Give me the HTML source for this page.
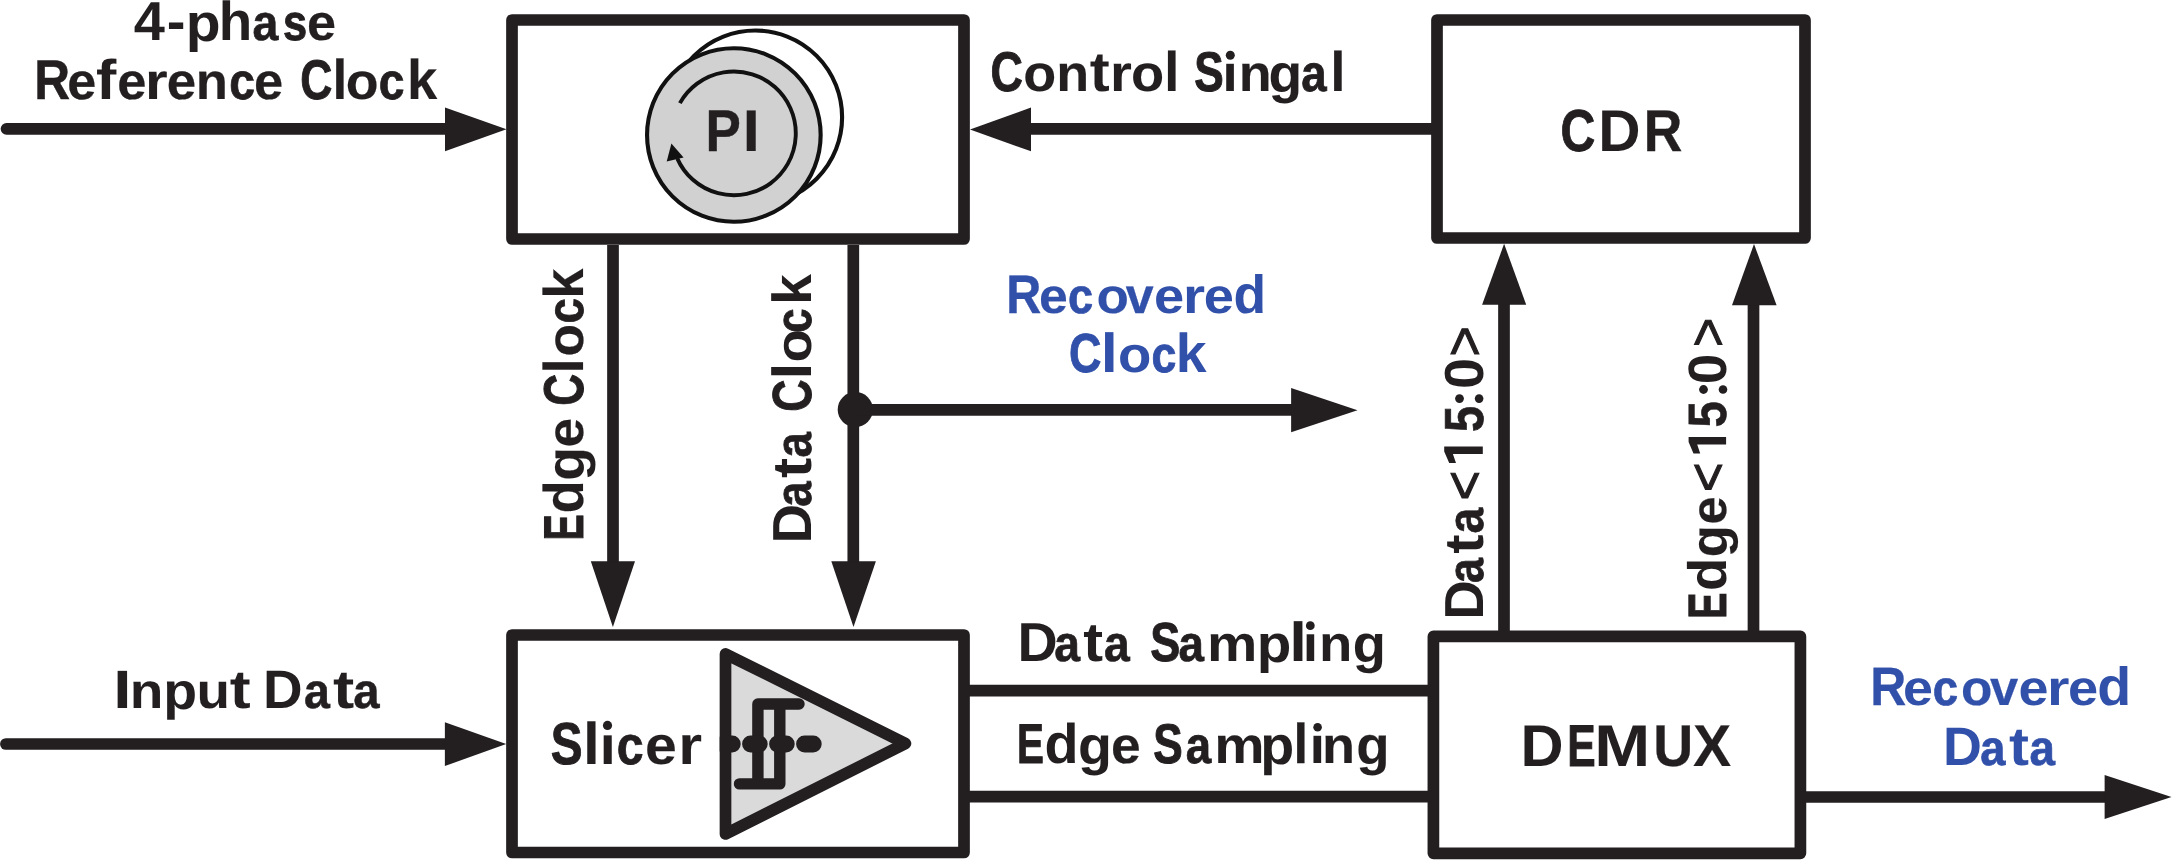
<!DOCTYPE html>
<html><head><meta charset="utf-8"><style>
html,body{margin:0;padding:0;background:#fff;width:2172px;height:861px;overflow:hidden}
svg{display:block}
text{text-rendering:geometricPrecision}
svg{will-change:transform}
text{font-family:"Liberation Sans",sans-serif;font-weight:bold;white-space:pre}
</style></head><body>
<svg width="2172" height="861" viewBox="0 0 2172 861">
<rect width="2172" height="861" fill="#fff"/>
<circle cx="755.3" cy="117.3" r="86.8" fill="#fff" stroke="#111" stroke-width="4.1"/>
<circle cx="733.85" cy="135" r="86.8" fill="#d1d1d1" stroke="#111" stroke-width="4.1"/>
<path d="M679.9 103.1 A61.9 61.9 0 1 1 677.35 158.6" fill="none" stroke="#111" stroke-width="3.9"/>
<polygon points="671.4,143.5 666.7,161.5 683.6,157.4" fill="#111"/>
<rect x="512" y="20" width="452" height="219" fill="none" stroke="#231f20" stroke-width="11.7" stroke-linejoin="round"/>
<rect x="1437" y="20" width="368" height="218" fill="none" stroke="#231f20" stroke-width="11.7" stroke-linejoin="round"/>
<rect x="512" y="635" width="452" height="217.5" fill="none" stroke="#231f20" stroke-width="11.7" stroke-linejoin="round"/>
<rect x="1433.4" y="636.4" width="367.0" height="216.89999999999998" fill="none" stroke="#231f20" stroke-width="11.7" stroke-linejoin="round"/>
<line x1="6.5" y1="128.8" x2="446" y2="128.8" stroke="#231f20" stroke-width="11.7" stroke-linecap="round"/>
<polygon points="445,107.5 506.5,129.2 445,151.2" fill="#231f20"/>
<line x1="1030" y1="128.8" x2="1432" y2="128.8" stroke="#231f20" stroke-width="11.7" stroke-linecap="butt"/>
<polygon points="1031,107.6 970,129.5 1031,151.3" fill="#231f20"/>
<line x1="613" y1="245" x2="613" y2="562" stroke="#231f20" stroke-width="11.7" stroke-linecap="butt"/>
<polygon points="590.8,561.3 635,561.3 612.9,627" fill="#231f20"/>
<line x1="853.3" y1="245" x2="853.3" y2="562" stroke="#231f20" stroke-width="11.7" stroke-linecap="butt"/>
<polygon points="831.3,561.3 875.9,561.3 853.5,627" fill="#231f20"/>
<circle cx="855.3" cy="409.6" r="17.6" fill="#231f20"/>
<line x1="855" y1="409.9" x2="1292" y2="409.9" stroke="#231f20" stroke-width="11.7" stroke-linecap="butt"/>
<polygon points="1291.1,388.1 1357.5,410.2 1291.1,432.2" fill="#231f20"/>
<line x1="5.9" y1="744" x2="446" y2="744" stroke="#231f20" stroke-width="11.7" stroke-linecap="round"/>
<polygon points="444.9,722.2 506.2,744.1 444.9,766" fill="#231f20"/>
<line x1="964" y1="690.7" x2="1433" y2="690.7" stroke="#231f20" stroke-width="11.7" stroke-linecap="butt"/>
<line x1="964" y1="796.6" x2="1433" y2="796.6" stroke="#231f20" stroke-width="11.7" stroke-linecap="butt"/>
<line x1="1800" y1="797" x2="2106" y2="797" stroke="#231f20" stroke-width="11.7" stroke-linecap="butt"/>
<polygon points="2104.6,775 2171.5,797 2104.6,819.1" fill="#231f20"/>
<line x1="1504" y1="636" x2="1504" y2="304" stroke="#231f20" stroke-width="11.7" stroke-linecap="butt"/>
<polygon points="1482.1,304.8 1526.2,304.8 1504.1,243.8" fill="#231f20"/>
<line x1="1753.5" y1="636" x2="1753.5" y2="304" stroke="#231f20" stroke-width="11.7" stroke-linecap="butt"/>
<polygon points="1732,305.3 1776.6,305.3 1754,244" fill="#231f20"/>
<polygon points="725.5,653.9 905.45,743.5 725.5,834" fill="#dadada" stroke="#231f20" stroke-width="11.7" stroke-linejoin="round"/>
<path d="M739.5 783.9 H779.8 V704 H799 M757.9 783.9 V704 H779.8" fill="none" stroke="#231f20" stroke-width="11.4" stroke-linecap="round" stroke-linejoin="round"/>
<clipPath id="pc"><rect x="719.7" y="700" width="200" height="100"/></clipPath>
<path d="M723.6 744.05 H813.2" fill="none" stroke="#231f20" stroke-width="17" stroke-linecap="round" stroke-dasharray="8.6 18.4" clip-path="url(#pc)"/>
<text transform="translate(133.78,39.7) scale(1.0172,1.0)" font-size="55" style="font-weight:bold" fill="#231f20">4</text>
<text transform="translate(166.66,39.7) scale(1.0214,1.0)" font-size="55" style="font-weight:bold" fill="#231f20">-</text>
<text transform="translate(185.85,40.7) scale(1.0370,0.965)" font-size="55" style="font-weight:bold" fill="#231f20">p</text>
<text transform="translate(218.82,39.7) scale(0.9962,1.0)" font-size="55" style="font-weight:bold" fill="#231f20">h</text>
<text transform="translate(252.51,39.7) scale(0.8448,0.92)" font-size="55" style="font-weight:bold" fill="#231f20" stroke="#231f20" stroke-width="0.73">a</text>
<text transform="translate(283.12,39.7) scale(0.7885,0.92)" font-size="55" style="font-weight:bold" fill="#231f20" stroke="#231f20" stroke-width="1.00">s</text>
<text transform="translate(307.00,39.7) scale(0.9481,0.92)" font-size="55" style="font-weight:bold" fill="#231f20" stroke="#231f20" stroke-width="0.22">e</text>
<text transform="translate(34.16,99.3) scale(0.8857,1.0)" font-size="56" style="font-weight:bold" fill="#231f20" stroke="#231f20" stroke-width="0.52">R</text>
<text transform="translate(67.34,99.3) scale(0.9296,0.92)" font-size="56" style="font-weight:bold" fill="#231f20" stroke="#231f20" stroke-width="0.30">e</text>
<text transform="translate(96.11,99.3) scale(1.0889,1.0)" font-size="56" style="font-weight:bold" fill="#231f20">f</text>
<text transform="translate(117.13,99.3) scale(0.9370,0.92)" font-size="56" style="font-weight:bold" fill="#231f20" stroke="#231f20" stroke-width="0.27">e</text>
<text transform="translate(144.94,99.3) scale(1.0412,0.92)" font-size="56" style="font-weight:bold" fill="#231f20">r</text>
<text transform="translate(166.81,99.3) scale(0.9444,0.92)" font-size="56" style="font-weight:bold" fill="#231f20" stroke="#231f20" stroke-width="0.24">e</text>
<text transform="translate(195.64,99.3) scale(0.9407,0.92)" font-size="56" style="font-weight:bold" fill="#231f20" stroke="#231f20" stroke-width="0.25">n</text>
<text transform="translate(229.25,99.3) scale(0.8259,0.92)" font-size="56" style="font-weight:bold" fill="#231f20" stroke="#231f20" stroke-width="0.84">c</text>
<text transform="translate(254.03,99.3) scale(0.9370,0.92)" font-size="56" style="font-weight:bold" fill="#231f20" stroke="#231f20" stroke-width="0.27">e</text>
<text transform="translate(300.22,99.3) scale(0.7919,1.0)" font-size="56" style="font-weight:bold" fill="#231f20" stroke="#231f20" stroke-width="1.00">C</text>
<text transform="translate(332.60,99.3) scale(0.9500,1.0)" font-size="56" style="font-weight:bold" fill="#231f20" stroke="#231f20" stroke-width="0.21">l</text>
<text transform="translate(345.68,99.3) scale(0.9600,0.92)" font-size="56" style="font-weight:bold" fill="#231f20" stroke="#231f20" stroke-width="0.17">o</text>
<text transform="translate(378.85,99.3) scale(0.8259,0.92)" font-size="56" style="font-weight:bold" fill="#231f20" stroke="#231f20" stroke-width="0.84">c</text>
<text transform="translate(407.00,99.3) scale(0.9741,1.0)" font-size="56" style="font-weight:bold" fill="#231f20" stroke="#231f20" stroke-width="0.11">k</text>
<text transform="translate(990.40,91.1) scale(0.8000,1.0)" font-size="56" style="font-weight:bold" fill="#231f20" stroke="#231f20" stroke-width="1.00">C</text>
<text transform="translate(1023.27,91.1) scale(0.9633,0.92)" font-size="56" style="font-weight:bold" fill="#231f20" stroke="#231f20" stroke-width="0.15">o</text>
<text transform="translate(1056.15,91.1) scale(0.9630,0.92)" font-size="56" style="font-weight:bold" fill="#231f20" stroke="#231f20" stroke-width="0.15">n</text>
<text transform="translate(1089.73,91.1) scale(1.0706,1.0)" font-size="56" style="font-weight:bold" fill="#231f20">t</text>
<text transform="translate(1109.98,91.1) scale(1.0059,0.92)" font-size="56" style="font-weight:bold" fill="#231f20">r</text>
<text transform="translate(1131.06,91.1) scale(0.9700,0.92)" font-size="56" style="font-weight:bold" fill="#231f20" stroke="#231f20" stroke-width="0.12">o</text>
<text transform="translate(1164.00,91.1) scale(1.0000,1.0)" font-size="56" style="font-weight:bold" fill="#231f20">l</text>
<text transform="translate(1194.32,91.1) scale(0.7879,1.0)" font-size="56" style="font-weight:bold" fill="#231f20" stroke="#231f20" stroke-width="1.00">S</text>
<text transform="translate(1222.30,91.1) scale(1,0.92)" font-size="56" fill="#231f20">&#305;</text><circle cx="1230.3" cy="55.3" r="4.5" fill="#231f20"/>
<text transform="translate(1238.85,91.1) scale(0.9630,0.92)" font-size="56" style="font-weight:bold" fill="#231f20" stroke="#231f20" stroke-width="0.15">n</text>
<text transform="translate(1268.43,92.1) scale(0.9857,0.965)" font-size="56" style="font-weight:bold" fill="#231f20" stroke="#231f20" stroke-width="0.06">g</text>
<text transform="translate(1301.37,91.1) scale(0.8138,0.92)" font-size="56" style="font-weight:bold" fill="#231f20" stroke="#231f20" stroke-width="0.92">a</text>
<text transform="translate(1330.15,91.1) scale(0.9875,1.0)" font-size="56" style="font-weight:bold" fill="#231f20" stroke="#231f20" stroke-width="0.05">l</text>
<text transform="translate(1560.47,150.6) scale(0.8154,1.0)" font-size="59" style="font-weight:bold" fill="#231f20" stroke="#231f20" stroke-width="0.91">C</text>
<text transform="translate(1598.13,150.6) scale(0.9917,1.0)" font-size="59" style="font-weight:bold" fill="#231f20">D</text>
<text transform="translate(1643.68,150.6) scale(0.9054,1.0)" font-size="59" style="font-weight:bold" fill="#231f20" stroke="#231f20" stroke-width="0.42">R</text>
<text transform="translate(705.48,150.8) scale(0.8979,1.0)" font-size="59" style="font-weight:bold" fill="#231f20" stroke="#231f20" stroke-width="0.45">P</text>
<text transform="translate(742.45,150.8) scale(1.0625,1.0)" font-size="59" style="font-weight:bold" fill="#231f20">I</text>
<text transform="translate(1006.31,312.5) scale(0.8971,1.0)" font-size="54" style="font-weight:bold" fill="#3150a9" stroke="#3150a9" stroke-width="0.46">R</text>
<text transform="translate(1039.08,312.5) scale(0.9577,0.92)" font-size="54" style="font-weight:bold" fill="#3150a9" stroke="#3150a9" stroke-width="0.18">e</text>
<text transform="translate(1067.92,312.5) scale(0.8385,0.92)" font-size="54" style="font-weight:bold" fill="#3150a9" stroke="#3150a9" stroke-width="0.77">c</text>
<text transform="translate(1096.43,312.5) scale(0.9828,0.92)" font-size="54" style="font-weight:bold" fill="#3150a9" stroke="#3150a9" stroke-width="0.07">o</text>
<text transform="translate(1125.80,312.5) scale(0.9267,0.92)" font-size="54" style="font-weight:bold" fill="#3150a9" stroke="#3150a9" stroke-width="0.32">v</text>
<text transform="translate(1153.99,312.5) scale(1.0038,0.92)" font-size="54" style="font-weight:bold" fill="#3150a9">e</text>
<text transform="translate(1182.90,312.5) scale(1.0500,0.92)" font-size="54" style="font-weight:bold" fill="#3150a9">r</text>
<text transform="translate(1203.69,312.5) scale(1.0038,0.92)" font-size="54" style="font-weight:bold" fill="#3150a9">e</text>
<text transform="translate(1233.62,312.5) scale(0.9889,1.0)" font-size="54" style="font-weight:bold" fill="#3150a9">d</text>
<text transform="translate(1069.07,372.0) scale(0.8167,1.0)" font-size="55" style="font-weight:bold" fill="#3150a9" stroke="#3150a9" stroke-width="0.90">C</text>
<text transform="translate(1100.64,372.0) scale(1.1143,1.0)" font-size="55" style="font-weight:bold" fill="#3150a9">l</text>
<text transform="translate(1118.01,372.0) scale(0.9931,0.92)" font-size="55" style="font-weight:bold" fill="#3150a9">o</text>
<text transform="translate(1151.58,372.0) scale(0.8111,0.92)" font-size="55" style="font-weight:bold" fill="#3150a9" stroke="#3150a9" stroke-width="0.93">c</text>
<text transform="translate(1175.67,372.0) scale(1.0077,1.0)" font-size="55" style="font-weight:bold" fill="#3150a9">k</text>
<text transform="translate(113.14,708.3) scale(1.2143,1.0)" font-size="54" style="font-weight:bold" fill="#231f20">I</text>
<text transform="translate(129.72,708.3) scale(1.0192,0.92)" font-size="54" style="font-weight:bold" fill="#231f20">n</text>
<text transform="translate(163.30,709.3) scale(1.0259,0.965)" font-size="54" style="font-weight:bold" fill="#231f20">p</text>
<text transform="translate(196.55,708.3) scale(1.0154,0.92)" font-size="54" style="font-weight:bold" fill="#231f20">u</text>
<text transform="translate(229.74,708.3) scale(1.1625,1.0)" font-size="54" style="font-weight:bold" fill="#231f20">t</text>
<text transform="translate(262.94,708.3) scale(1.0152,1.0)" font-size="54" style="font-weight:bold" fill="#231f20">D</text>
<text transform="translate(303.98,708.3) scale(0.8607,0.92)" font-size="54" style="font-weight:bold" fill="#231f20" stroke="#231f20" stroke-width="0.65">a</text>
<text transform="translate(332.92,708.3) scale(1.1812,1.0)" font-size="54" style="font-weight:bold" fill="#231f20">t</text>
<text transform="translate(353.15,708.3) scale(0.8750,0.92)" font-size="54" style="font-weight:bold" fill="#231f20" stroke="#231f20" stroke-width="0.57">a</text>
<text transform="translate(550.78,764.2) scale(0.8086,1.0)" font-size="59" style="font-weight:bold" fill="#231f20" stroke="#231f20" stroke-width="0.95">S</text>
<text transform="translate(582.90,764.2) scale(1.0250,1.0)" font-size="59" style="font-weight:bold" fill="#231f20">l</text>
<text transform="translate(599.50,764.2) scale(1,0.92)" font-size="59" fill="#231f20">&#305;</text><circle cx="607.5" cy="725.4" r="4.6" fill="#231f20"/>
<text transform="translate(616.87,764.2) scale(0.8172,0.92)" font-size="59" style="font-weight:bold" fill="#231f20" stroke="#231f20" stroke-width="0.89">c</text>
<text transform="translate(645.06,764.2) scale(0.9690,0.92)" font-size="59" style="font-weight:bold" fill="#231f20" stroke="#231f20" stroke-width="0.13">e</text>
<text transform="translate(678.14,764.2) scale(1.0389,0.92)" font-size="59" style="font-weight:bold" fill="#231f20">r</text>
<text transform="translate(1017.45,661.2) scale(1.0121,1.0)" font-size="55" style="font-weight:bold" fill="#231f20">D</text>
<text transform="translate(1054.32,661.2) scale(0.8414,0.92)" font-size="55" style="font-weight:bold" fill="#231f20" stroke="#231f20" stroke-width="0.75">a</text>
<text transform="translate(1083.32,661.2) scale(1.0824,1.0)" font-size="55" style="font-weight:bold" fill="#231f20">t</text>
<text transform="translate(1104.12,661.2) scale(0.8414,0.92)" font-size="55" style="font-weight:bold" fill="#231f20" stroke="#231f20" stroke-width="0.75">a</text>
<text transform="translate(1150.16,661.2) scale(0.8188,1.0)" font-size="55" style="font-weight:bold" fill="#231f20" stroke="#231f20" stroke-width="0.89">S</text>
<text transform="translate(1178.54,661.2) scale(0.8310,0.92)" font-size="55" style="font-weight:bold" fill="#231f20" stroke="#231f20" stroke-width="0.81">a</text>
<text transform="translate(1206.88,661.2) scale(1.0293,0.92)" font-size="55" style="font-weight:bold" fill="#231f20">m</text>
<text transform="translate(1256.68,662.2) scale(1.0296,0.965)" font-size="55" style="font-weight:bold" fill="#231f20">p</text>
<text transform="translate(1289.27,661.2) scale(1.1571,1.0)" font-size="55" style="font-weight:bold" fill="#231f20">l</text>
<text transform="translate(1302.80,661.2) scale(1,0.92)" font-size="55" fill="#231f20">&#305;</text><circle cx="1310.3" cy="625.7" r="4.4" fill="#231f20"/>
<text transform="translate(1318.93,661.2) scale(0.9923,0.92)" font-size="55" style="font-weight:bold" fill="#231f20">n</text>
<text transform="translate(1352.73,662.2) scale(0.9857,0.965)" font-size="55" style="font-weight:bold" fill="#231f20" stroke="#231f20" stroke-width="0.06">g</text>
<text transform="translate(1017.02,763.0) scale(0.7194,1.0)" font-size="56" style="font-weight:bold" fill="#231f20" stroke="#231f20" stroke-width="1.00">E</text>
<text transform="translate(1044.41,763.0) scale(0.9964,1.0)" font-size="56" style="font-weight:bold" fill="#231f20">d</text>
<text transform="translate(1078.01,764.0) scale(0.9929,0.965)" font-size="56" style="font-weight:bold" fill="#231f20">g</text>
<text transform="translate(1111.10,763.0) scale(0.9519,0.92)" font-size="56" style="font-weight:bold" fill="#231f20" stroke="#231f20" stroke-width="0.20">e</text>
<text transform="translate(1153.22,763.0) scale(0.7879,1.0)" font-size="56" style="font-weight:bold" fill="#231f20" stroke="#231f20" stroke-width="1.00">S</text>
<text transform="translate(1185.67,763.0) scale(0.8138,0.92)" font-size="56" style="font-weight:bold" fill="#231f20" stroke="#231f20" stroke-width="0.92">a</text>
<text transform="translate(1214.25,763.0) scale(1.0119,0.92)" font-size="56" style="font-weight:bold" fill="#231f20">m</text>
<text transform="translate(1260.13,764.0) scale(0.9929,0.965)" font-size="56" style="font-weight:bold" fill="#231f20">p</text>
<text transform="translate(1293.55,763.0) scale(0.9375,1.0)" font-size="56" style="font-weight:bold" fill="#231f20" stroke="#231f20" stroke-width="0.27">l</text>
<text transform="translate(1309.60,763) scale(1,0.92)" font-size="56" fill="#231f20">&#305;</text><circle cx="1317.6" cy="727.2" r="4.3" fill="#231f20"/>
<text transform="translate(1322.03,763.0) scale(0.9667,0.92)" font-size="56" style="font-weight:bold" fill="#231f20" stroke="#231f20" stroke-width="0.14">n</text>
<text transform="translate(1356.35,764.0) scale(0.9750,0.965)" font-size="56" style="font-weight:bold" fill="#231f20" stroke="#231f20" stroke-width="0.10">g</text>
<text transform="translate(1520.46,765.5) scale(1.0111,1.0)" font-size="59" style="font-weight:bold" fill="#231f20">D</text>
<text transform="translate(1567.32,765.5) scale(0.7212,1.0)" font-size="59" style="font-weight:bold" fill="#231f20" stroke="#231f20" stroke-width="1.00">E</text>
<text transform="translate(1594.14,765.5) scale(1.1390,1.0)" font-size="59" style="font-weight:bold" fill="#231f20">M</text>
<text transform="translate(1653.15,765.5) scale(0.9371,1.0)" font-size="59" style="font-weight:bold" fill="#231f20" stroke="#231f20" stroke-width="0.27">U</text>
<text transform="translate(1692.93,765.5) scale(0.9711,1.0)" font-size="59" style="font-weight:bold" fill="#231f20" stroke="#231f20" stroke-width="0.12">X</text>
<text transform="translate(1870.25,705.1) scale(0.9250,1.0)" font-size="54" style="font-weight:bold" fill="#3150a9" stroke="#3150a9" stroke-width="0.32">R</text>
<text transform="translate(1903.01,705.1) scale(0.9962,0.92)" font-size="54" style="font-weight:bold" fill="#3150a9">e</text>
<text transform="translate(1932.71,705.1) scale(0.8462,0.92)" font-size="54" style="font-weight:bold" fill="#3150a9" stroke="#3150a9" stroke-width="0.73">c</text>
<text transform="translate(1961.10,705.1) scale(0.9517,0.92)" font-size="54" style="font-weight:bold" fill="#3150a9" stroke="#3150a9" stroke-width="0.20">o</text>
<text transform="translate(1990.00,705.1) scale(0.9400,0.92)" font-size="54" style="font-weight:bold" fill="#3150a9" stroke="#3150a9" stroke-width="0.26">v</text>
<text transform="translate(2018.41,705.1) scale(0.9962,0.92)" font-size="54" style="font-weight:bold" fill="#3150a9">e</text>
<text transform="translate(2046.92,705.1) scale(1.0688,0.92)" font-size="54" style="font-weight:bold" fill="#3150a9">r</text>
<text transform="translate(2068.09,705.1) scale(1.0038,0.92)" font-size="54" style="font-weight:bold" fill="#3150a9">e</text>
<text transform="translate(2097.24,705.1) scale(1.0296,1.0)" font-size="54" style="font-weight:bold" fill="#3150a9">d</text>
<text transform="translate(1943.01,764.7) scale(0.9970,1.0)" font-size="54" style="font-weight:bold" fill="#3150a9">D</text>
<text transform="translate(1980.13,764.7) scale(0.8357,0.92)" font-size="54" style="font-weight:bold" fill="#3150a9" stroke="#3150a9" stroke-width="0.79">a</text>
<text transform="translate(2008.89,764.7) scale(1.1125,1.0)" font-size="54" style="font-weight:bold" fill="#3150a9">t</text>
<text transform="translate(2029.61,764.7) scale(0.8464,0.92)" font-size="54" style="font-weight:bold" fill="#3150a9" stroke="#3150a9" stroke-width="0.73">a</text>
<text transform="translate(583.2,540.60) rotate(-90) scale(0.7000,1.0)" font-size="56" style="font-weight:bold" fill="#231f20" stroke="#231f20" stroke-width="1.00">E</text>
<text transform="translate(583.2,513.55) rotate(-90) scale(0.9750,1.0)" font-size="56" style="font-weight:bold" fill="#231f20" stroke="#231f20" stroke-width="0.10">d</text>
<text transform="translate(584.2,480.77) rotate(-90) scale(0.9857,0.965)" font-size="56" style="font-weight:bold" fill="#231f20" stroke="#231f20" stroke-width="0.06">g</text>
<text transform="translate(583.2,447.40) rotate(-90) scale(0.9481,0.92)" font-size="56" style="font-weight:bold" fill="#231f20" stroke="#231f20" stroke-width="0.22">e</text>
<text transform="translate(583.2,405.68) rotate(-90) scale(0.7892,1.0)" font-size="56" style="font-weight:bold" fill="#231f20" stroke="#231f20" stroke-width="1.00">C</text>
<text transform="translate(583.2,373.45) rotate(-90) scale(0.9625,1.0)" font-size="56" style="font-weight:bold" fill="#231f20" stroke="#231f20" stroke-width="0.16">l</text>
<text transform="translate(583.2,356.50) rotate(-90) scale(0.9500,0.92)" font-size="56" style="font-weight:bold" fill="#231f20" stroke="#231f20" stroke-width="0.21">o</text>
<text transform="translate(583.2,323.43) rotate(-90) scale(0.8148,0.92)" font-size="56" style="font-weight:bold" fill="#231f20" stroke="#231f20" stroke-width="0.91">c</text>
<text transform="translate(583.2,298.87) rotate(-90) scale(0.9667,1.0)" font-size="56" style="font-weight:bold" fill="#231f20" stroke="#231f20" stroke-width="0.14">k</text>
<text transform="translate(810.8,543.59) rotate(-90) scale(0.9970,1.0)" font-size="55" style="font-weight:bold" fill="#231f20">D</text>
<text transform="translate(810.8,506.76) rotate(-90) scale(0.8276,0.92)" font-size="55" style="font-weight:bold" fill="#231f20" stroke="#231f20" stroke-width="0.83">a</text>
<text transform="translate(810.8,478.10) rotate(-90) scale(1.1000,1.0)" font-size="55" style="font-weight:bold" fill="#231f20">t</text>
<text transform="translate(810.8,457.56) rotate(-90) scale(0.8276,0.92)" font-size="55" style="font-weight:bold" fill="#231f20" stroke="#231f20" stroke-width="0.83">a</text>
<text transform="translate(810.8,411.63) rotate(-90) scale(0.8139,1.0)" font-size="55" style="font-weight:bold" fill="#231f20" stroke="#231f20" stroke-width="0.91">C</text>
<text transform="translate(810.8,379.40) rotate(-90) scale(1.1000,1.0)" font-size="55" style="font-weight:bold" fill="#231f20">l</text>
<text transform="translate(810.8,362.39) rotate(-90) scale(0.9966,0.92)" font-size="55" style="font-weight:bold" fill="#231f20">o</text>
<text transform="translate(810.8,332.69) rotate(-90) scale(0.7926,0.92)" font-size="55" style="font-weight:bold" fill="#231f20" stroke="#231f20" stroke-width="1.00">c</text>
<text transform="translate(810.8,304.80) rotate(-90) scale(1.0000,1.0)" font-size="55" style="font-weight:bold" fill="#231f20">k</text>
<text transform="translate(1482.8,619.78) rotate(-90) scale(0.9939,1.0)" font-size="55" style="font-weight:bold" fill="#231f20">D</text>
<text transform="translate(1482.8,582.93) rotate(-90) scale(0.8138,0.92)" font-size="55" style="font-weight:bold" fill="#231f20" stroke="#231f20" stroke-width="0.92">a</text>
<text transform="translate(1482.8,553.85) rotate(-90) scale(1.0471,1.0)" font-size="55" style="font-weight:bold" fill="#231f20">t</text>
<text transform="translate(1482.8,533.38) rotate(-90) scale(0.8414,0.92)" font-size="55" style="font-weight:bold" fill="#231f20" stroke="#231f20" stroke-width="0.75">a</text>
<text transform="translate(1482.8,500.48) rotate(-90) scale(0.9269,1.0)" font-size="55" style="font-weight:normal" fill="#231f20" stroke="#231f20" stroke-width="1.20">&lt;</text>
<path d="M1444.2,446.6 H1482.8 V453.9 H1452.9 L1456,462.9 H1449.2 L1444.2,451.5 Z" fill="#231f20"/>
<text transform="translate(1482.8,431.90) rotate(-90) scale(0.8519,1.0)" font-size="55" style="font-weight:bold" fill="#231f20" stroke="#231f20" stroke-width="0.70">5</text>
<circle cx="1459.5" cy="398.6" r="4.4" fill="#231f20"/><circle cx="1479.1" cy="398.6" r="4.3" fill="#231f20"/>
<text transform="translate(1482.8,389.03) rotate(-90) scale(1.0154,1.0)" font-size="55" style="font-weight:bold" fill="#231f20">0</text>
<text transform="translate(1482.8,356.42) rotate(-90) scale(0.9385,1.0)" font-size="55" style="font-weight:normal" fill="#231f20" stroke="#231f20" stroke-width="1.20">&gt;</text>
<text transform="translate(1726.1,618.71) rotate(-90) scale(0.7267,1.0)" font-size="54" style="font-weight:bold" fill="#231f20" stroke="#231f20" stroke-width="1.00">E</text>
<text transform="translate(1726.1,591.12) rotate(-90) scale(1.0111,1.0)" font-size="54" style="font-weight:bold" fill="#231f20">d</text>
<text transform="translate(1727.1,557.25) rotate(-90) scale(0.9741,0.965)" font-size="54" style="font-weight:bold" fill="#231f20" stroke="#231f20" stroke-width="0.11">g</text>
<text transform="translate(1726.1,524.47) rotate(-90) scale(0.9346,0.92)" font-size="54" style="font-weight:bold" fill="#231f20" stroke="#231f20" stroke-width="0.28">e</text>
<text transform="translate(1726.1,491.99) rotate(-90) scale(0.9308,1.0)" font-size="54" style="font-weight:normal" fill="#231f20" stroke="#231f20" stroke-width="1.20">&lt;</text>
<path d="M1688.6,437.1 H1726.1 V444.6 H1697.2 L1700.2,453.5 H1693.5 L1688.6,442.1 Z" fill="#231f20"/>
<text transform="translate(1726.1,427.46) rotate(-90) scale(0.8778,1.0)" font-size="54" style="font-weight:bold" fill="#231f20" stroke="#231f20" stroke-width="0.56">5</text>
<circle cx="1703.5" cy="389.5" r="4.4" fill="#231f20"/><circle cx="1723" cy="389.5" r="4.3" fill="#231f20"/>
<text transform="translate(1726.1,384.24) rotate(-90) scale(1.0192,1.0)" font-size="54" style="font-weight:bold" fill="#231f20">0</text>
<text transform="translate(1726.1,347.08) rotate(-90) scale(0.9269,1.0)" font-size="54" style="font-weight:normal" fill="#231f20" stroke="#231f20" stroke-width="1.20">&gt;</text>
</svg>
</body></html>
